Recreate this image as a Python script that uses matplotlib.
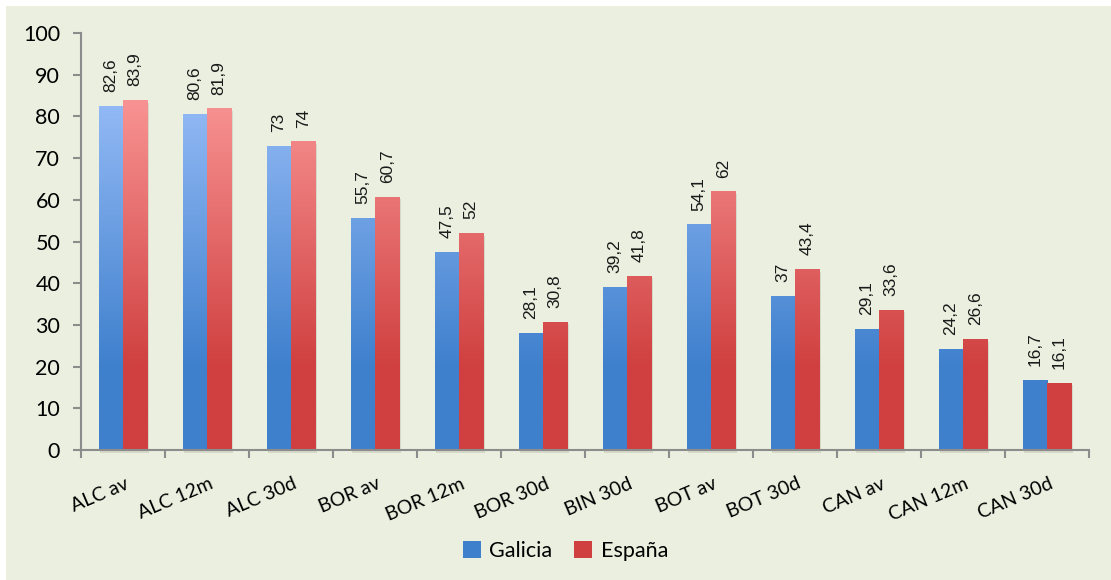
import numpy as np
import matplotlib.pyplot as plt
from matplotlib.colors import LinearSegmentedColormap, Normalize
from matplotlib.patches import Rectangle, Patch

categories = ["ALC av", "ALC 12m", "ALC 30d", "BOR av", "BOR 12m", "BOR 30d",
              "BIN 30d", "BOT av", "BOT 30d", "CAN av", "CAN 12m", "CAN 30d"]
galicia = [82.6, 80.6, 73, 55.7, 47.5, 28.1, 39.2, 54.1, 37, 29.1, 24.2, 16.7]
espana = [83.9, 81.9, 74, 60.7, 52, 30.8, 41.8, 62, 43.4, 33.6, 26.6, 16.1]
series_names = ["Galicia", "España"]

BG = "#ebefdf"
AXIS = "#8c8c8c"
# dark at the base, lighter towards the top of the scale
blue_cmap = LinearSegmentedColormap.from_list(
    "blue_grad", [(0, "#3f80cd"), (0.2, "#3f80cd"), (0.85, "#95bbf6"), (1, "#95bbf6")])
red_cmap = LinearSegmentedColormap.from_list(
    "red_grad", [(0, "#d04040"), (0.2, "#d04040"), (0.85, "#f99494"), (1, "#f99494")])
norm = Normalize(0, 100)


def fmt(v):
    s = f"{v:.1f}".replace(".", ",")
    return s[:-2] if s.endswith(",0") else s


fig = plt.figure(figsize=(11.11, 5.80), dpi=100)
fig.patch.set_facecolor("white")
fig.patches.append(Rectangle((6 / 1111, 0), 1, 1 - 6 / 580, transform=fig.transFigure,
                             facecolor=BG, edgecolor="none", zorder=-10))

ax = fig.add_axes([81 / 1111, 1 - 450 / 580, (1089 - 81) / 1111, (450 - 33) / 580])
ax.set_facecolor("none")

x = np.arange(len(categories))
w = 0.29
grad = np.linspace(0, 100, 512).reshape(-1, 1)

for vals, offset, cmap in [(galicia, -w / 2, blue_cmap), (espana, w / 2, red_cmap)]:
    bars = ax.bar(x + offset, vals, w, color="none", edgecolor="none")
    for b, v in zip(bars, vals):
        x0, x1 = b.get_x(), b.get_x() + b.get_width()
        # soft shadow on the right / bottom
        ax.add_patch(Rectangle((x0 + 0.02, -0.6), b.get_width(), v, facecolor="#7a7a6a",
                               alpha=0.18, edgecolor="none", zorder=1, clip_on=False))
        img = ax.imshow(grad, extent=[x0, x1, 0, 100], origin="lower", cmap=cmap, norm=norm,
                        aspect="auto", zorder=2)
        img.set_clip_path(b)
        ax.annotate(fmt(v), (b.get_x() + b.get_width() / 2, v), xytext=(0, 10),
                    textcoords="offset points", rotation=90, ha="center", va="bottom",
                    fontsize=12.5, family="Liberation Sans", color="#1a1a1a")

ax.set_xlim(-0.5, len(categories) - 0.5)
ax.set_ylim(0, 100)
ax.set_yticks(range(0, 101, 10))
ax.set_xticks(np.arange(len(categories) + 1) - 0.5)
ax.set_xticklabels([])
ax.set_xticks(x + 0.02, minor=True)
ax.set_xticklabels(categories, minor=True, rotation=23, ha="right", rotation_mode="anchor",
                   fontsize=14, family="Lato")
ax.tick_params(axis="x", which="minor", length=0, pad=18)
ax.tick_params(axis="x", which="major", length=6, width=1.5, color=AXIS, direction="out")
ax.tick_params(axis="y", length=6, width=1.5, color=AXIS, labelsize=15.5, pad=9)
for lbl in ax.get_yticklabels():
    lbl.set_family("Lato")
for s in ["top", "right"]:
    ax.spines[s].set_visible(False)
for s in ["left", "bottom"]:
    ax.spines[s].set_color(AXIS)
    ax.spines[s].set_linewidth(1.5)

handles = [Patch(facecolor="#3f80cd", label=series_names[0]),
           Patch(facecolor="#d04040", label=series_names[1])]
fig.legend(handles=handles, loc="center", bbox_to_anchor=(0.509, 0.05), ncol=2, frameon=False,
           prop={"family": "Lato", "size": 15.5}, handlelength=0.85, handleheight=0.85,
           handletextpad=0.4, columnspacing=1.0)

fig.savefig("out.png", dpi=100)
